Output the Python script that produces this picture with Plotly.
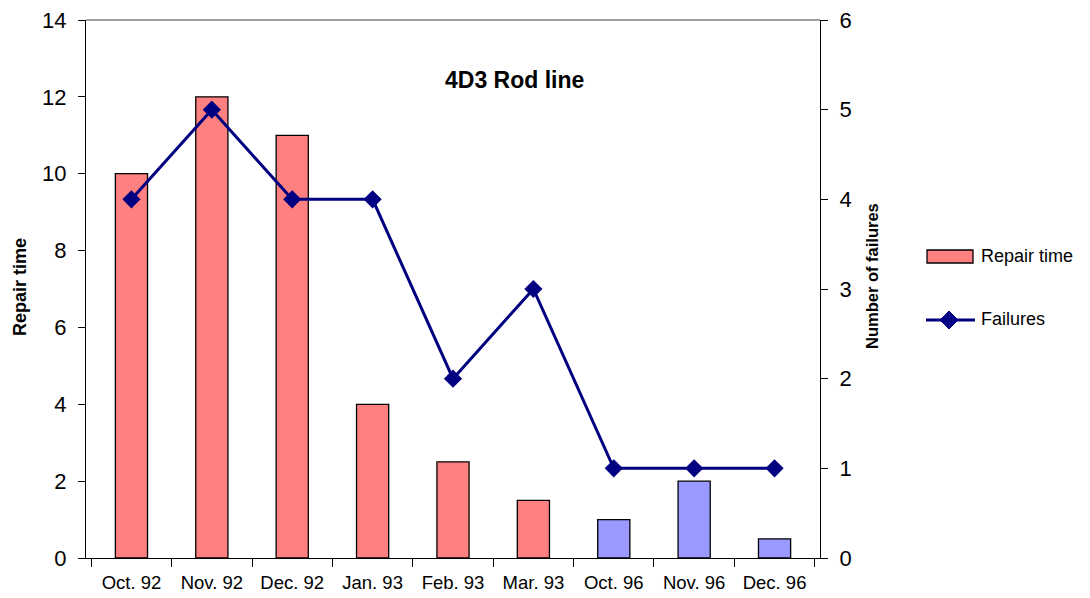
import plotly.graph_objects as go

months = ["Oct. 92", "Nov. 92", "Dec. 92", "Jan. 93", "Feb. 93", "Mar. 93",
          "Oct. 96", "Nov. 96", "Dec. 96"]
repair_time = [10, 12, 11, 4, 2.5, 1.5, 1, 2, 0.5]
failures = [4, 5, 4, 4, 2, 3, 1, 1, 1]
bar_colors = ["#FF8080"] * 6 + ["#9999FF"] * 3

FONT = "Liberation Sans, Arial, sans-serif"
W, H = 1090, 598
ML, MR, MT, MB = 86, 270, 20, 40
PW, PH = W - ML - MR, H - MT - MB


def px(x):
    """Pixel x -> paper x."""
    return (x - ML) / PW


def py(y):
    """Pixel y (from top) -> paper y."""
    return (H - MB - y) / PH


def label(text, x, y, size, angle=0, xanchor="center"):
    return dict(text=text, xref="paper", yref="paper", x=px(x), y=py(y),
                xanchor=xanchor, yanchor="middle", showarrow=False,
                textangle=angle, font=dict(size=size))


fig = go.Figure()
fig.add_trace(go.Bar(
    x=months, y=repair_time, name="Repair time",
    marker=dict(color=bar_colors, line=dict(color="black", width=1.3)),
    yaxis="y", showlegend=False,
))
fig.add_trace(go.Scatter(
    x=months, y=failures, name="Failures", mode="lines+markers",
    line=dict(color="#000080", width=3),
    marker=dict(symbol="diamond", size=14, color="#000080"),
    yaxis="y2", showlegend=False,
))

# legend drawn on the right of the plot
legend_shapes = [
    dict(type="rect", xref="paper", yref="paper",
         x0=px(927), x1=px(973), y0=py(263), y1=py(250),
         fillcolor="#FF8080", line=dict(color="black", width=1.3)),
    dict(type="line", xref="paper", yref="paper",
         x0=px(926), x1=px(975), y0=py(320), y1=py(320),
         line=dict(color="#000080", width=3)),
    dict(type="path", xref="paper", yref="paper",
         path=(f"M {px(940)} {py(320)} L {px(949)} {py(311)} "
               f"L {px(958)} {py(320)} L {px(949)} {py(329)} Z"),
         fillcolor="#000080", line=dict(color="#000080", width=1)),
]

texts = [
    label("<b>4D3 Rod line</b>", 514, 80, 23),
    label("<b>Repair time</b>", 20, 287, 18, angle=-90),
    label("<b>Number of failures</b>", 872, 276, 16.5, angle=-90),
    label("Repair time", 979, 256, 18, xanchor="left"),
    label("Failures", 979, 319, 18, xanchor="left"),
]

fig.update_layout(
    width=W, height=H,
    margin=dict(l=ML, r=MR, t=MT, b=MB, autoexpand=False),
    paper_bgcolor="white", plot_bgcolor="white",
    font=dict(family=FONT, color="black"),
    bargap=0.6,
    showlegend=False,
    xaxis=dict(
        type="category", showline=True, linecolor="black", linewidth=1,
        ticks="outside", ticklen=8, tickcolor="black", tickson="boundaries",
        tickfont=dict(size=18.5), ticklabelstandoff=8, automargin=False,
        showgrid=False, zeroline=False,
    ),
    yaxis=dict(
        range=[0, 14], dtick=2, showline=True, linecolor="black", linewidth=1,
        ticks="outside", ticklen=7, tickcolor="black", showgrid=False,
        zeroline=False, tickfont=dict(size=22), ticklabelstandoff=7,
        automargin=False,
    ),
    yaxis2=dict(
        range=[0, 6], dtick=1, overlaying="y", side="right", showline=True,
        linecolor="black", linewidth=1, ticks="outside", ticklen=7,
        tickcolor="black", showgrid=False, zeroline=False,
        tickfont=dict(size=22), ticklabelstandoff=7, automargin=False,
    ),
    shapes=[dict(type="line", xref="paper", yref="paper", x0=0, x1=1, y0=1, y1=1,
                 line=dict(color="#808080", width=1.5))] + legend_shapes,
    annotations=texts,
)

fig.write_html("out.html")
